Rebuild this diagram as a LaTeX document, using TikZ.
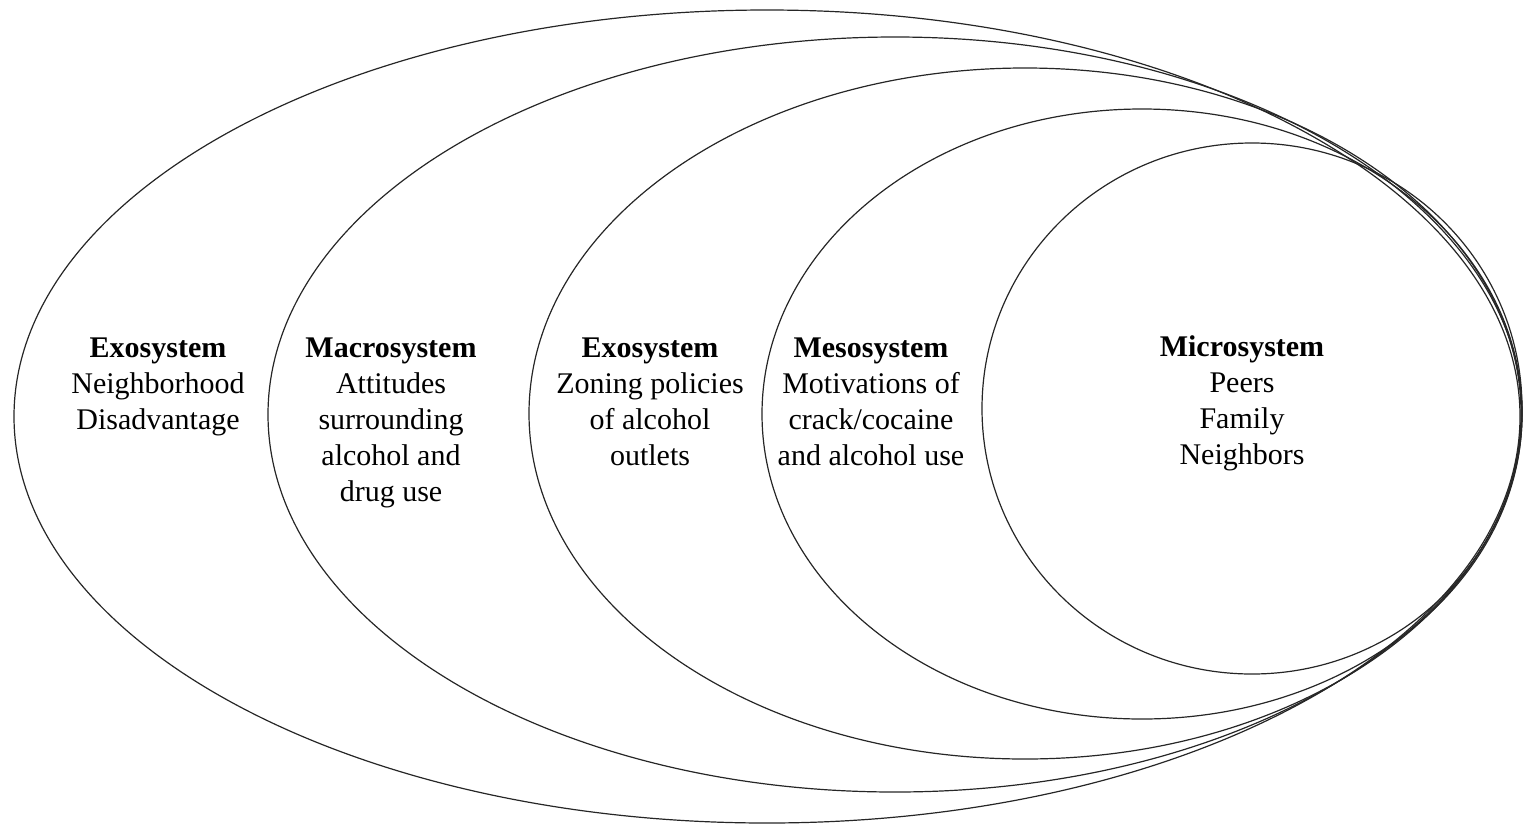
\documentclass[tikz,border=0pt]{standalone}
\usepackage{fontspec}
\setmainfont{Liberation Serif}
\usetikzlibrary{shapes.geometric}
\begin{document}
\begin{tikzpicture}[x=0.5pt,y=-0.5pt,
  ring/.style={draw=black!85, line width=0.6pt, ellipse, inner sep=0pt, outer sep=0pt},
  label/.style={anchor=north, align=center, inner sep=0pt, font=\fontsize{15}{18}\selectfont}]
\useasboundingbox (0,0) rectangle (1524,825);
\node[ring, minimum width=753pt, minimum height=406.5pt] (e1) at (767,416.5) {};
\node[ring, minimum width=627pt, minimum height=377.5pt] (e2) at (895,414.5) {};
\node[ring, minimum width=496pt, minimum height=345.5pt] (e3) at (1025,413.5) {};
\node[ring, minimum width=380pt, minimum height=305pt] (e4) at (1142,414) {};
\node[ring, minimum width=270pt, minimum height=265.5pt] (e5) at (1252,408.5) {};
\node[label] (t1) at (158,337) {\textbf{Exosystem}\\Neighborhood\\Disadvantage};
\node[label] (t2) at (391,337) {\textbf{Macrosystem}\\Attitudes\\surrounding\\alcohol and\\drug use};
\node[label] (t3) at (650,337) {\textbf{Exosystem}\\Zoning policies\\of alcohol\\outlets};
\node[label] (t4) at (871,337) {\textbf{Mesosystem}\\Motivations of\\crack/cocaine\\and alcohol use};
\node[label] (t5) at (1242,335.5) {\textbf{Microsystem}\\Peers\\Family\\Neighbors};
\end{tikzpicture}
\end{document}
